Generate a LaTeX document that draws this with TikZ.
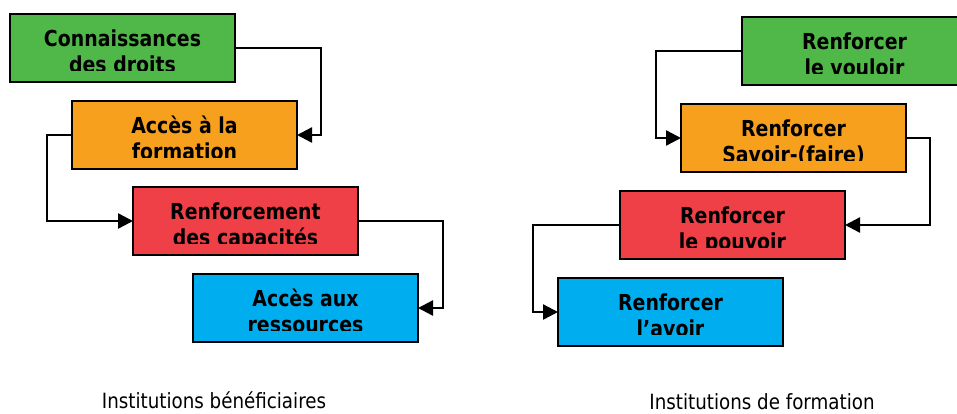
\documentclass[tikz,border=0pt]{standalone}
\usepackage{fontspec}
\usetikzlibrary{arrows.meta}
\newfontfamily\boxfont[FakeStretch=0.86]{DejaVu Sans}
\newfontfamily\capfont[FakeStretch=0.87]{DejaVu Sans}
\definecolor{cgreen}{HTML}{50B848}
\definecolor{corange}{HTML}{F7A01E}
\definecolor{cred}{HTML}{EE4046}
\definecolor{cblue}{HTML}{00AEEF}
\tikzset{
  box/.style={anchor=north west, minimum width=225pt, minimum height=68pt,
    inner sep=0pt, outer sep=0pt},
  lbl/.style={anchor=base, inner sep=0pt,
    font=\boxfont\bfseries\fontsize{22}{26}\selectfont},
  frame/.style={line width=2pt, draw=black},
  conn/.style={line width=2.4pt, draw=black, line join=miter,
    -{Triangle[length=15pt,width=15pt]}},
  captiontext/.style={anchor=base, inner sep=0pt,
    font=\capfont\fontsize{21}{25}\selectfont}
}
% coloured box with two bold lines, the second line cut off at the bottom
\newcommand\flowbox[6]{%
  \node[box, fill=#2] (#1) at (#3,#4) {};
  \node[lbl] (#1-a) at ([yshift=-32pt]#1.north) {#5};
  \node[lbl] (#1-b) at ([yshift=-58pt]#1.north) {#6};
  \fill[#2] ([yshift=11pt]#1.south west) rectangle (#1.south east);
  \draw[frame] (#1.south west) rectangle (#1.north east);
}
\begin{document}
\begin{tikzpicture}[x=1pt, y=-1pt]
  \useasboundingbox (0,0) rectangle (957,413);
  \clip (0,0) rectangle (957,413);

  % left chain
  \flowbox{lg}{cgreen}{10}{14}{Connaissances}{des droits}
  \flowbox{lo}{corange}{72}{101}{Accès à la}{formation}
  \flowbox{lr}{cred}{133}{187}{Renforcement}{des capacités}
  \flowbox{lb}{cblue}{193}{274}{Accès aux}{ressources}

  \draw[conn] (lg.east) -- ++(86,0) |- (lo.east);
  \draw[conn] (lo.west) -- ++(-25,0) |- (lr.west);
  \draw[conn] (lr.east) -- ++(85,0) |- (lb.east);

  % right chain
  \flowbox{rg}{cgreen}{742}{17}{Renforcer}{le vouloir}
  \flowbox{ro}{corange}{681}{104}{Renforcer}{Savoir-(faire)}
  \flowbox{rr}{cred}{620}{191}{Renforcer}{le pouvoir}
  \flowbox{rb}{cblue}{558}{278}{Renforcer}{l’avoir}

  \draw[conn] (rg.west) -- ++(-86,0) |- (ro.west);
  \draw[conn] (ro.east) -- ++(24,0) |- (rr.east);
  \draw[conn] (rr.west) -- ++(-87,0) |- (rb.west);

  % captions
  \node[captiontext] (capl) at (214,408) {Institutions bénéficiaires};
  \node[captiontext] (capr) at (762,409) {Institutions de formation};
\end{tikzpicture}
\end{document}
